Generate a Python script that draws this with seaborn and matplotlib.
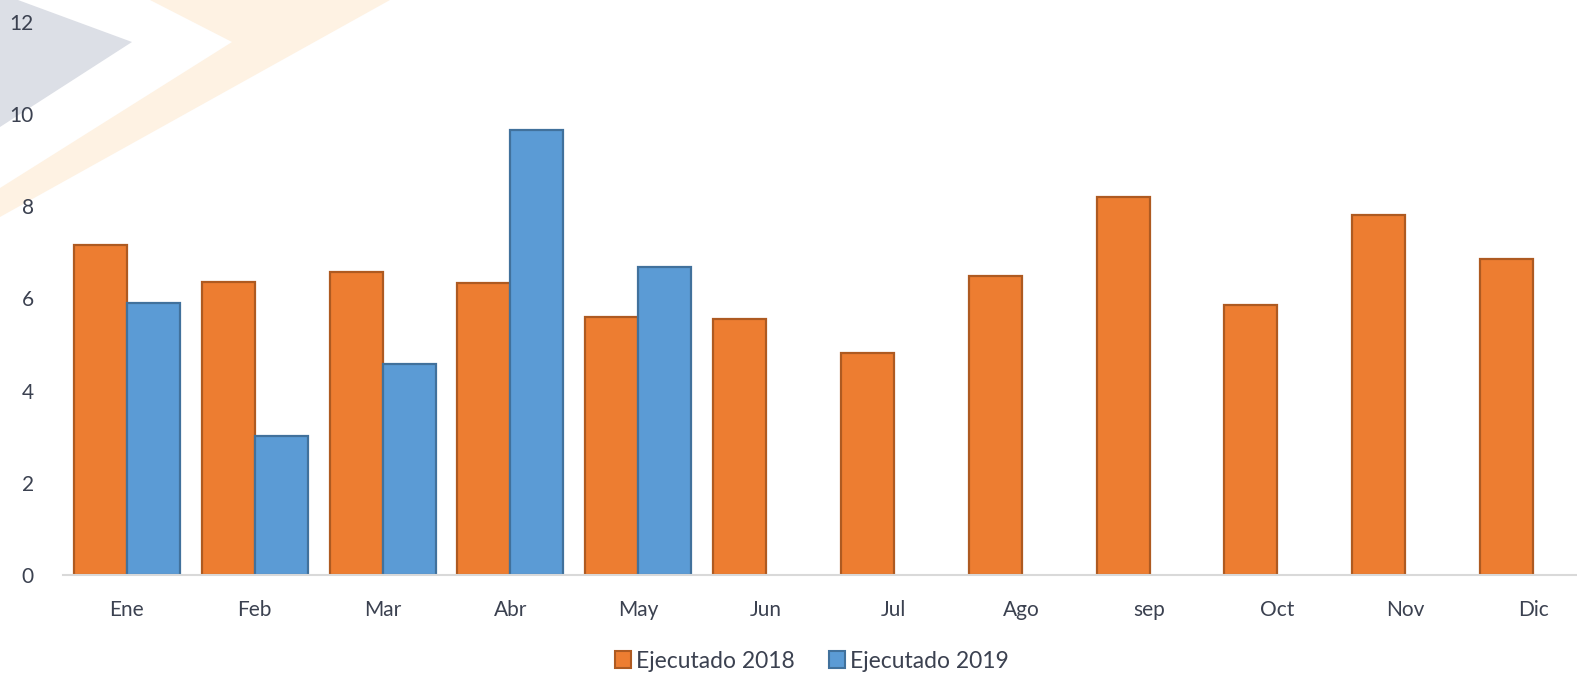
import numpy as np
import pandas as pd
import matplotlib
matplotlib.use("Agg")
import matplotlib.pyplot as plt
from matplotlib.patches import Polygon, Patch
import seaborn as sns

# data
meses = ["Ene", "Feb", "Mar", "Abr", "May", "Jun", "Jul", "Ago", "sep", "Oct", "Nov", "Dic"]
ejecutado_2018 = [7.16, 6.36, 6.58, 6.34, 5.60, 5.56, 4.82, 6.49, 8.20, 5.86, 7.81, 6.86]
ejecutado_2019 = [5.90, 3.02, 4.58, 9.66, 6.68, np.nan, np.nan, np.nan, np.nan, np.nan, np.nan, np.nan]
series = ["Ejecutado 2018", "Ejecutado 2019"]

df = pd.DataFrame({
    "mes": meses * 2,
    "valor": ejecutado_2018 + ejecutado_2019,
    "serie": [series[0]] * 12 + [series[1]] * 12,
})

sns.set_style("white")
plt.rcParams["font.family"] = ["Lato", "DejaVu Sans"]
text_color = "#3b4150"

W, H = 1577, 674
fig = plt.figure(figsize=(W / 100, H / 100), dpi=100)

# decorative background chevrons, drawn in a pixel-space background axes
bg = fig.add_axes([0, 0, 1, 1], zorder=0)
bg.set_xlim(0, W)
bg.set_ylim(H, 0)
bg.axis("off")
bg.add_patch(Polygon([(0, 0), (18, 0), (132, 42), (0, 127)], closed=True,
                     facecolor="#dcdfe6", edgecolor="none"))
bg.add_patch(Polygon([(150, 0), (390, 0), (0, 217), (0, 188), (232, 42)], closed=True,
                     facecolor="#fef2e3", edgecolor="none"))

# plot area runs slightly past the right edge, as in the reference
ax = fig.add_axes([63 / W, 1 - 575 / H, 1534 / W, (575 - 22) / H], zorder=1)
ax.patch.set_alpha(0)

sns.barplot(data=df, x="mes", y="valor", hue="serie",
            palette={series[0]: "#ed7d31", series[1]: "#5b9bd5"},
            width=0.83, ax=ax, legend=False, saturation=1)

edge = {series[0]: "#ae5a21", series[1]: "#41719c"}
for cont, s in zip(ax.containers, series):
    for bar in cont:
        bar.set_edgecolor(edge[s])
        bar.set_linewidth(1.6)

ax.set_ylim(0, 12)
ax.set_xlim(-0.5, 11.5)
ax.set_yticks(range(0, 13, 2))
ax.set_xlabel("")
ax.set_ylabel("")
ax.tick_params(axis="both", length=0, labelsize=15, colors=text_color)
ax.tick_params(axis="x", pad=18)
ax.tick_params(axis="y", pad=21)
for lbl in ax.get_yticklabels():
    lbl.set_horizontalalignment("right")

for side in ["top", "right", "left"]:
    ax.spines[side].set_visible(False)
ax.spines["bottom"].set_color("#d9d9d9")
ax.spines["bottom"].set_linewidth(1.5)

handles = [Patch(facecolor="#ed7d31", edgecolor="#ae5a21", linewidth=1.5),
           Patch(facecolor="#5b9bd5", edgecolor="#41719c", linewidth=1.5)]
fig.legend(handles, series, loc="center", bbox_to_anchor=(812 / W, 1 - 661 / H),
           ncol=2, frameon=False, fontsize=16.5, handlelength=0.7, handleheight=0.7,
           handletextpad=0.2, columnspacing=1.5, labelcolor=text_color,
           borderpad=0.1)

fig.savefig("out.png", dpi=100)
